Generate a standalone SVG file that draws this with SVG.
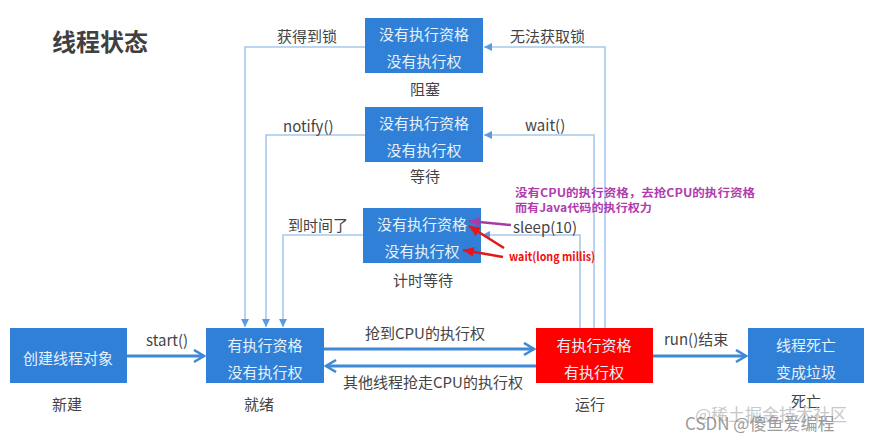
<svg xmlns="http://www.w3.org/2000/svg" width="871" height="440" viewBox="0 0 871 440">
<defs>
<style>
.box{fill:#2f80d6}
.red{fill:#ff0000}
.bt{font-family:"Noto Sans CJK SC",sans-serif;font-size:15px;fill:#e8f1fb;text-anchor:middle;dominant-baseline:central}
.lb{font-family:"Noto Sans CJK SC",sans-serif;font-size:15px;fill:#444;dominant-baseline:central}
.lbc{text-anchor:middle}
.thin{fill:none;stroke:#a6c9ec;stroke-width:1.6}
.main{fill:none;stroke:#3f8ad8;stroke-width:3}
.pk{font-family:"Noto Sans CJK SC",sans-serif;font-size:11px;font-weight:bold;fill:#b03cb0;dominant-baseline:central}
.rt{font-family:"Noto Sans CJK SC",sans-serif;font-size:12px;font-weight:bold;fill:#f01010;dominant-baseline:central}
.wm{font-family:"Noto Sans CJK SC",sans-serif;font-size:17px;dominant-baseline:central}
</style>
<marker id="ta" markerUnits="userSpaceOnUse" markerWidth="9" markerHeight="9" refX="8" refY="4" orient="auto">
<path d="M0,0 L8,4 L0,8 Z" fill="#5a9ae0"/>
</marker>
<marker id="ch" markerUnits="userSpaceOnUse" markerWidth="14" markerHeight="16" refX="11" refY="7" orient="auto">
<path d="M1,1 L11,7 L1,13" fill="none" stroke="#3f8ad8" stroke-width="2.6"/>
</marker>
<marker id="ra" markerUnits="userSpaceOnUse" markerWidth="12" markerHeight="10" refX="11" refY="5" orient="auto">
<path d="M0,0 L11,5 L0,10 Z" fill="#e8141c"/>
</marker>
<marker id="pa" markerUnits="userSpaceOnUse" markerWidth="12" markerHeight="10" refX="11" refY="5" orient="auto">
<path d="M0,0 L11,5 L0,10 Z" fill="#a63ca6"/>
</marker>
</defs>
<rect width="871" height="440" fill="#ffffff"/>
<text x="52" y="40" font-family="'Noto Sans CJK SC',sans-serif" font-size="24" font-weight="bold" fill="#404040" dominant-baseline="central">线程状态</text>

<g id="connectors">
<path class="thin" d="M365,47 H245 V327" marker-end="url(#ta)"/>
<path class="thin" d="M365,135 H266 V327" marker-end="url(#ta)"/>
<path class="thin" d="M363,235 H283 V327" marker-end="url(#ta)"/>
<path class="thin" d="M605,328 V47 H484" marker-end="url(#ta)"/>
<path class="thin" d="M594,328 V135 H484" marker-end="url(#ta)"/>
<path class="thin" d="M580,328 V235 H482" marker-end="url(#ta)"/>
<path class="main" d="M127,356 H204" marker-end="url(#ch)"/>
<path class="main" d="M324,349 H534" marker-end="url(#ch)"/>
<path class="main" d="M536,366 H326" marker-end="url(#ch)"/>
<path class="main" d="M653,356 H746" marker-end="url(#ch)"/>
<text class="lb" x="277" y="35">获得到锁</text>
<text class="lb" x="510" y="35">无法获取锁</text>
<text class="lb" x="283" y="125">notify()</text>
<text class="lb" x="525" y="124">wait()</text>
<text class="lb" x="288" y="224">到时间了</text>
<text class="lb" x="146" y="339">start()</text>
<text class="lb" x="365" y="332">抢到CPU的执行权</text>
<text class="lb" x="343" y="381">其他线程抢走CPU的执行权</text>
<text class="lb" x="664" y="338">run()结束</text>
</g>

<g id="blocked">
<rect class="box" x="365" y="18" width="118" height="55"/>
<text class="bt" x="424" y="33">没有执行资格</text>
<text class="bt" x="424" y="60">没有执行权</text>
<text class="lb lbc" x="425" y="88">阻塞</text>
</g>
<g id="waiting">
<rect class="box" x="365" y="107" width="118" height="55"/>
<text class="bt" x="424" y="122">没有执行资格</text>
<text class="bt" x="424" y="149">没有执行权</text>
<text class="lb lbc" x="425" y="175">等待</text>
</g>
<g id="timed-waiting">
<rect class="box" x="363" y="208" width="118" height="55"/>
<text class="bt" x="422" y="223">没有执行资格</text>
<text class="bt" x="422" y="250">没有执行权</text>
<text class="lb lbc" x="423" y="279">计时等待</text>
</g>
<g id="new">
<rect class="box" x="10" y="328" width="117" height="55"/>
<text class="bt" x="68" y="357">创建线程对象</text>
<text class="lb lbc" x="67" y="403">新建</text>
</g>
<g id="ready">
<rect class="box" x="206" y="328" width="118" height="55"/>
<text class="bt" x="265" y="344">有执行资格</text>
<text class="bt" x="265" y="371">没有执行权</text>
<text class="lb lbc" x="259" y="403">就绪</text>
</g>
<g id="running">
<rect class="red" x="536" y="328" width="117" height="55"/>
<text class="bt" x="594" y="344">有执行资格</text>
<text class="bt" x="594" y="371">有执行权</text>
<text class="lb lbc" x="590" y="403">运行</text>
</g>
<g id="dead">
<rect class="box" x="748" y="328" width="116" height="55"/>
<text class="bt" x="806" y="344">线程死亡</text>
<text class="bt" x="806" y="371">变成垃圾</text>
<text class="lb lbc" x="806" y="400">死亡</text>
</g>

<g id="annotations">
<text class="pk" x="515" y="192" textLength="240" lengthAdjust="spacingAndGlyphs">没有CPU的执行资格，去抢CPU的执行资格</text>
<text class="pk" x="515" y="207" textLength="137" lengthAdjust="spacingAndGlyphs">而有Java代码的执行权力</text>
<text class="lb" x="513" y="226">sleep(10)</text>
<path d="M511,225 L469,221" stroke="#a63ca6" stroke-width="2.5" fill="none" marker-end="url(#pa)"/>
<text class="rt" x="509" y="255" textLength="86" lengthAdjust="spacingAndGlyphs">wait(long millis)</text>
<path d="M504,248 L469,226" stroke="#e8141c" stroke-width="2.5" fill="none" marker-end="url(#ra)"/>
<path d="M503,257 L463,250" stroke="#e8141c" stroke-width="2.5" fill="none" marker-end="url(#ra)"/>
</g>

<g id="watermark">
<text class="wm" x="695" y="413" fill="#bbbbbb" opacity="0.8">@稀土掘金技术社区</text>
<text class="wm" x="685" y="422" fill="#8a8a8a" opacity="0.85">CSDN @傻鱼爱编程</text>
</g>
</svg>
